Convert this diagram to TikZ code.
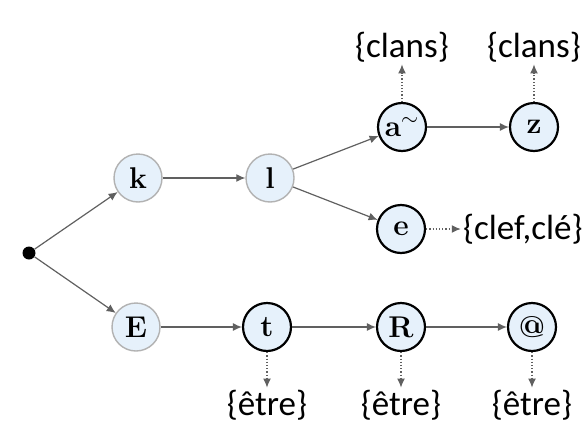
\documentclass[tikz,border=0pt]{standalone}
\usepackage{fontspec}
\newfontfamily\labelfont{Carlito}
\usetikzlibrary{arrows.meta,positioning}
\definecolor{statefill}{RGB}{230,241,251}

\begin{document}
\begin{tikzpicture}[
    x=0.5pt, y=-0.5pt,
    state/.style={circle, draw=gray!60, line width=0.7pt, fill=statefill,
                  minimum size=24pt, inner sep=0pt, font=\fontsize{15}{17}\selectfont\bfseries},
    final/.style={state, draw=black, line width=1.1pt},
    outlbl/.style={font=\labelfont\fontsize{17.5}{19}\selectfont, inner sep=1pt},
    arr/.style={-{Latex[length=4.5pt,width=4pt]}, draw=gray!75!black, line width=0.6pt},
    outarr/.style={arr, densely dotted}
]
\useasboundingbox (0,0) rectangle (588,428);

%% root and states
\node[circle, fill=black, inner sep=0pt, minimum size=6.5pt] (root) at (29,253) {};
\node[state] (k)  at (138,178) {k};
\node[state] (l)  at (270,178) {l};
\node[final] (an) at (402,127) {a$^{\sim}$};
\node[final] (z)  at (534,127) {z};
\node[final] (e)  at (401,229) {e};
\node[state] (E)  at (136,327) {E};
\node[final] (t)  at (267,327) {t};
\node[final] (R)  at (401,327) {R};
\node[final] (sw) at (532,327) {@};

%% outputs
\node[outlbl] (o_an) at (402,47)  {\{clans\}};
\node[outlbl] (o_z)  at (534,47)  {\{clans\}};
\node[outlbl, anchor=east] (o_e) at (585,229) {\{clef,clé\}};
\node[outlbl] (o_t)  at (267,405) {\{être\}};
\node[outlbl] (o_R)  at (401,405) {\{être\}};
\node[outlbl] (o_sw) at (532,405) {\{être\}};

%% transitions
\draw[arr] (root) -- (k);
\draw[arr] (root) -- (E);
\draw[arr] (k)  -- (l);
\draw[arr] (l)  -- (an);
\draw[arr] (l)  -- (e);
\draw[arr] (an) -- (z);
\draw[arr] (E)  -- (t);
\draw[arr] (t)  -- (R);
\draw[arr] (R)  -- (sw);

%% output arrows
\draw[outarr] (an) -- (o_an);
\draw[outarr] (z)  -- (o_z);
\draw[outarr] (e)  -- (o_e);
\draw[outarr] (t)  -- (o_t);
\draw[outarr] (R)  -- (o_R);
\draw[outarr] (sw) -- (o_sw);

\end{tikzpicture}
\end{document}
